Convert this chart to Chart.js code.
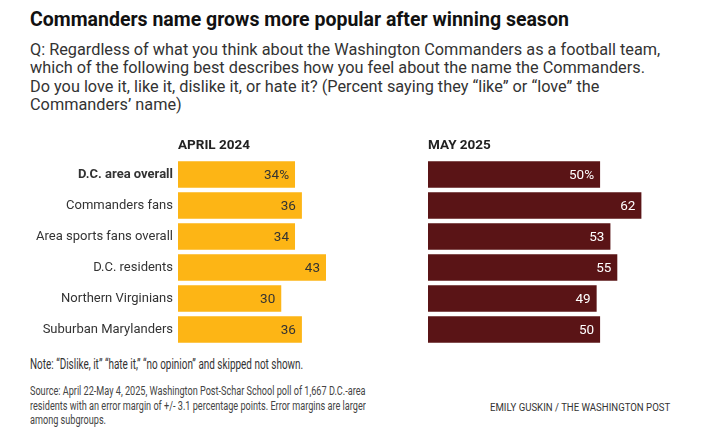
<!DOCTYPE html>
<html>
<head>
<meta charset="utf-8">
<script src="https://cdn.jsdelivr.net/npm/chart.js@4"></script>
<style>
  body { margin: 0; width: 706px; height: 438px; background: #fff; font-family: Roboto, "Noto Sans", sans-serif; color: #222; position: relative; overflow: hidden; }
  #title { position: absolute; left: 30px; top: 8px; font-size: 19.5px; font-weight: 700; color: #111; white-space: nowrap; }
  #sub { position: absolute; left: 30px; top: 41px; font-size: 16.3px; line-height: 18.4px; color: #333; white-space: nowrap; }
  #note { position: absolute; left: 30px; top: 356px; font-size: 14px; color: #333; white-space: nowrap; transform: scaleX(0.71); transform-origin: left top; }
  #source { position: absolute; left: 30px; top: 384px; font-size: 12px; line-height: 14.5px; color: #444; white-space: nowrap; transform: scaleX(0.76); transform-origin: left top; }
  #credit { position: absolute; left: 490px; top: 402px; font-size: 10px; color: #333; white-space: nowrap; transform: scaleX(0.96); transform-origin: left top; }
  .box { position: absolute; top: 130px; height: 215px; }
  #leftBox { left: 0; width: 400px; }
  #rightBox { left: 400px; width: 306px; }
</style>
</head>
<body>
<div id="title">Commanders name grows more popular after winning season</div>
<div id="sub">Q: Regardless of what you think about the Washington Commanders as a football team,<br>which of the following best describes how you feel about the name the Commanders.<br>Do you love it, like it, dislike it, or hate it? (Percent saying they “like” or “love” the<br>Commanders’ name)</div>
<div class="box" id="leftBox"><canvas id="april"></canvas></div>
<div class="box" id="rightBox"><canvas id="may"></canvas></div>
<div id="note">Note: “Dislike, it” “hate it,” “no opinion” and skipped not shown.</div>
<div id="source">Source: April 22-May 4, 2025, Washington Post-Schar School poll of 1,667 D.C.-area<br>residents with an error margin of +/- 3.1 percentage points. Error margins are larger<br>among subgroups.</div>
<div id="credit">EMILY GUSKIN / THE WASHINGTON POST</div>
<script>
// Data
const groups = ['D.C. area overall', 'Commanders fans', 'Area sports fans overall', 'D.C. residents', 'Northern Virginians', 'Suburban Marylanders'];
const april2024 = [34, 36, 34, 43, 30, 36];
const may2025 = [50, 62, 53, 55, 49, 50];

// Value labels at the end of each bar
const valueLabels = {
  id: 'valueLabels',
  afterDatasetsDraw(chart, args, opts) {
    const ctx = chart.ctx;
    const meta = chart.getDatasetMeta(0);
    const vals = chart.data.datasets[0].data;
    ctx.save();
    ctx.font = '13.5px Roboto, sans-serif';
    ctx.fillStyle = opts.color;
    ctx.textAlign = 'right';
    ctx.textBaseline = 'middle';
    meta.data.forEach((bar, i) => {
      const txt = vals[i] + (i == 0 ? '%' : '');
      ctx.fillText(txt, bar.x - 6, bar.y + 1);
    });
    ctx.restore();
  }
};

function panel(id, title, values, color, textColor, showLabels){
  const config = {
    type: 'bar',
    data: {
      labels: groups,
      datasets: [{
        data: values,
        backgroundColor: color,
        barPercentage: 0.86,
        categoryPercentage: 1
      }]
    },
    options: {
      indexAxis: 'y',
      responsive: true,
      maintainAspectRatio: false,
      animation: false,
      layout: {
        padding: showLabels ? {left: 0, right: 0, top: 0, bottom: 0} : {left: 28, right: 56, top: 0, bottom: 0}
      },
      scales: {
        x: {
          position: 'top',
          min: 0,
          max: 64.5,
          grid: { display: false, drawTicks: false },
          border: { display: false },
          ticks: { display: false },
          title: {
            display: true,
            text: title,
            align: 'start',
            color: '#222',
            font: { family: 'Roboto', size: 13.5, weight: 'bold' },
            padding: { top: 8, bottom: 0 }
          },
          afterFit(scale) { scale.height = 29; }
        },
        y: {
          display: showLabels,
          grid: { display: false, drawTicks: false },
          border: { display: false },
          ticks: {
            padding: 5,
            color: '#333',
            font: (c) => c.index == 0 ? {family: 'Roboto', size: 13, weight: 'bold'} : {family: 'Roboto', size: 13}
          },
          afterFit(scale) {
            scale.width = showLabels ? 178 : 0;
            scale.paddingTop = 0;
            scale.paddingBottom = 0;
          }
        }
      },
      plugins: {
        legend: { display: false },
        tooltip: { enabled: false },
        valueLabels: { color: textColor }
      }
    },
    plugins: [valueLabels]
  };
  return new Chart(document.getElementById(id), config);
}

APRIL_CHART = panel('april', 'APRIL 2024', april2024, '#FDB515', '#333', true);
MAY_CHART = panel('may', 'MAY 2025', may2025, '#5A1416', '#fff', false);
</script>
</body>
</html>
